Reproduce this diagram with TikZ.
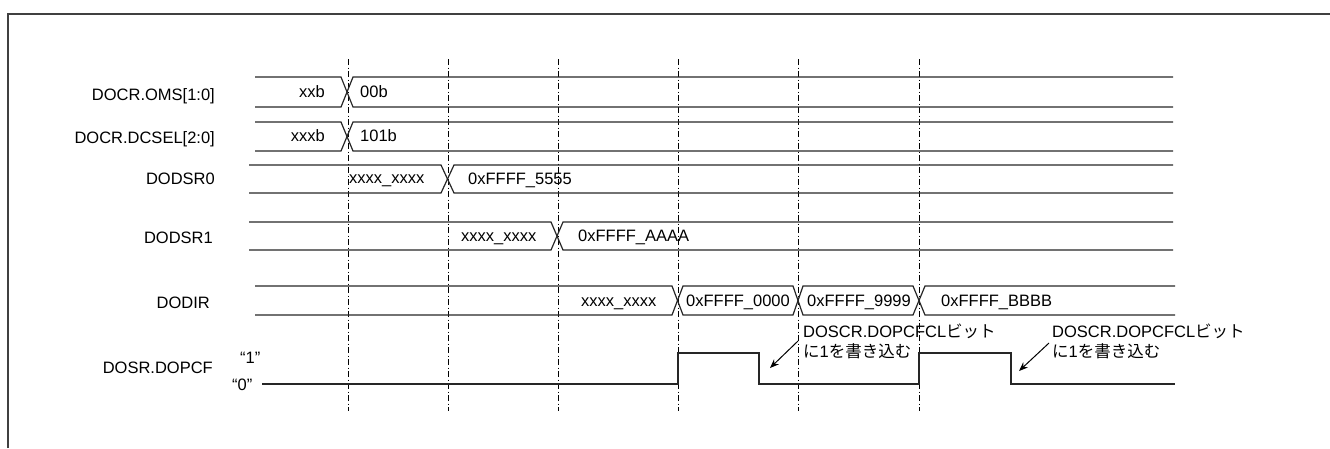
\documentclass[tikz,border=0pt]{standalone}
\usepackage{fontspec}
\setmainfont{Liberation Sans}
\newfontfamily\jp{Noto Sans CJK JP}
\usetikzlibrary{arrows.meta}
\begin{document}
\begin{tikzpicture}[x=1pt,y=-1pt,
  lbl/.style={inner sep=0pt,font=\fontsize{16.5}{19}\selectfont},
  sig/.style={line width=1.2pt,black!85},
  pulse/.style={line width=1.8pt,black!85},
  guide/.style={line width=1pt,black,dash pattern=on 6pt off 2.5pt on 1pt off 2.5pt},
  frameline/.style={line width=1.6pt,black!75},
  note/.style={line width=1pt,-{Stealth[length=9pt,width=7pt]}}]
\useasboundingbox (0,0) rectangle (1330,448);
% frame
\draw[frameline] (8,448) -- (8,14) -- (1330,14);
% guide lines
\foreach \gx in {348,448,558,678,798,919}
  \draw[guide] (\gx,59) -- (\gx,411);
% DOCR.OMS
\node[lbl,anchor=base east] (l1) at (215,100) {DOCR.OMS[1:0]};
\draw[sig] (255,77) -- (341,77) -- (353,107) -- (1173,107);
\draw[sig] (255,107) -- (341,107) -- (353,77) -- (1173,77);
\node[lbl,anchor=base east] (t1a) at (325,97) {xxb};
\node[lbl,anchor=base west] (t1b) at (360,97) {00b};
% DOCR.DCSEL
\node[lbl,anchor=base east] (l2) at (215,143) {DOCR.DCSEL[2:0]};
\draw[sig] (255,122) -- (341,122) -- (353,151) -- (1173,151);
\draw[sig] (255,151) -- (341,151) -- (353,122) -- (1173,122);
\node[lbl,anchor=base east] (t2a) at (325,141) {xxxb};
\node[lbl,anchor=base west] (t2b) at (360,141) {101b};
% DODSR0
\node[lbl,anchor=base east] (l3) at (215,184) {DODSR0};
\draw[sig] (249,165) -- (441,165) -- (454,193) -- (1173,193);
\draw[sig] (249,193) -- (441,193) -- (454,165) -- (1173,165);
\node[lbl,anchor=base west] (t3a) at (349,183) {xxxx\_xxxx};
\node[lbl,anchor=base west] (t3b) at (468,184) {0xFFFF\_5555};
% DODSR1
\node[lbl,anchor=base east] (l4) at (213,243) {DODSR1};
\draw[sig] (249,222) -- (551,222) -- (563,250) -- (1173,250);
\draw[sig] (249,250) -- (551,250) -- (563,222) -- (1173,222);
\node[lbl,anchor=base west] (t4a) at (461,241) {xxxx\_xxxx};
\node[lbl,anchor=base west] (t4b) at (578,241) {0xFFFF\_AAAA};
% DODIR
\node[lbl,anchor=base east] (l5) at (210,308) {DODIR};
\draw[sig] (255,286) -- (672,286) -- (683,315) -- (793,315) -- (803,286) -- (913,286) -- (925,315) -- (1175,315);
\draw[sig] (255,315) -- (672,315) -- (683,286) -- (793,286) -- (803,315) -- (913,315) -- (925,286) -- (1175,286);
\node[lbl,anchor=base west] (t5a) at (581,306) {xxxx\_xxxx};
\node[lbl,anchor=base west] (t5b) at (686,306) {0xFFFF\_0000};
\node[lbl,anchor=base west] (t5c) at (807,306) {0xFFFF\_9999};
\node[lbl,anchor=base west] (t5d) at (941,306) {0xFFFF\_BBBB};
% DOSR.DOPCF
\node[lbl,anchor=base east] (l6) at (213,373) {DOSR.DOPCF};
\node[lbl,anchor=base west] (q1) at (240,363) {“1”};
\node[lbl,anchor=base west] (q0) at (232,390) {“0”};
\draw[pulse] (262,384) -- (678,384) -- (678,353) -- (759,353) -- (759,384) -- (919,384) -- (919,353) -- (1011,353) -- (1011,384) -- (1175,384);
% annotations
\node[lbl,anchor=base west] (n1a) at (803,337) {DOSCR.DOPCFCL{\jp ビット}};
\node[lbl,anchor=base west] (n1b) at (803,357) {{\jp に}1{\jp を書き込む}};
\coordinate (a1s) at (798,341);
\coordinate (a1e) at (770,368);
\draw[note] (a1s) -- (a1e);
\node[lbl,anchor=base west] (n2a) at (1052,337) {DOSCR.DOPCFCL{\jp ビット}};
\node[lbl,anchor=base west] (n2b) at (1052,357) {{\jp に}1{\jp を書き込む}};
\coordinate (a2s) at (1049,343);
\coordinate (a2e) at (1019,371);
\draw[note] (a2s) -- (a2e);
\end{tikzpicture}
\end{document}
